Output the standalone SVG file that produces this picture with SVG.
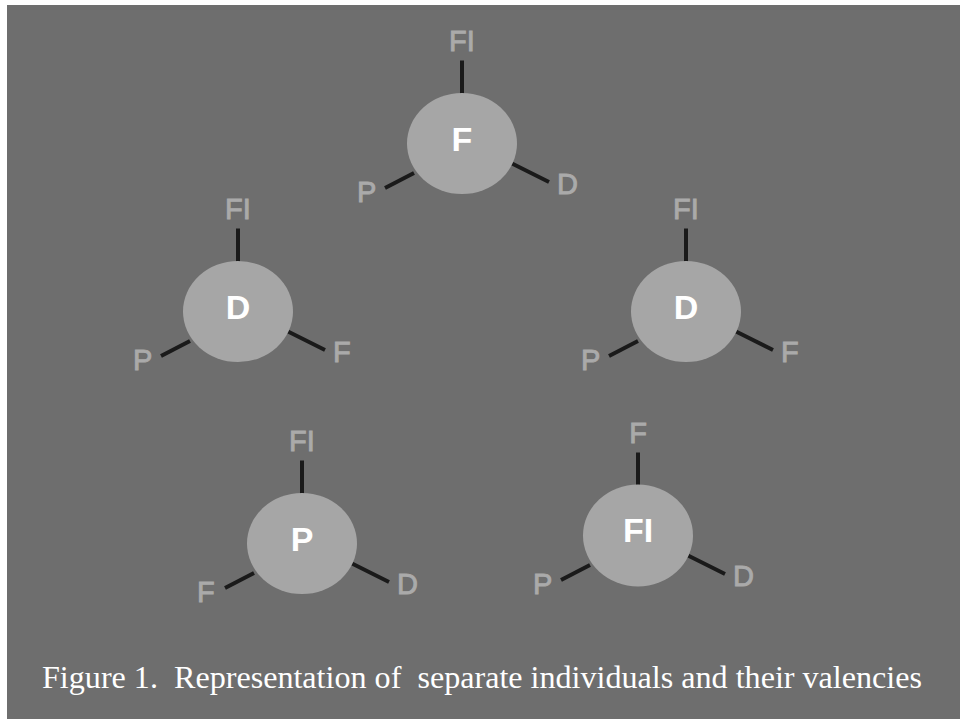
<svg xmlns="http://www.w3.org/2000/svg" width="960" height="719" viewBox="0 0 960 719">
<style>
.body{fill:#a6a6a6}
.val{font-family:"Liberation Sans",Arial,sans-serif;font-size:29px;fill:#aaaaaa;stroke:#aaaaaa;stroke-width:0.9px}
.name{font-family:"Liberation Sans",Arial,sans-serif;font-size:34px;font-weight:bold;fill:#ffffff;text-anchor:middle}
.top{text-anchor:middle}
.bond{stroke:#1a1a1a;stroke-width:4;stroke-linecap:butt}
.caption{font-family:"Liberation Serif","Times New Roman",serif;font-size:31px;fill:#ffffff;white-space:pre}
</style>
<rect x="0" y="0" width="960" height="719" fill="#ffffff"/>
<rect x="7" y="5" width="953" height="714" fill="#6e6e6e"/>
<g id="connectors">
<line class="bond" x1="462" y1="60.5" x2="462" y2="94"/>
<line class="bond" x1="385" y1="188" x2="414" y2="173"/>
<line class="bond" x1="512" y1="163.5" x2="549" y2="182"/>
<line class="bond" x1="238" y1="228.5" x2="238" y2="262"/>
<line class="bond" x1="161" y1="356" x2="190" y2="341"/>
<line class="bond" x1="288" y1="331.5" x2="325" y2="350"/>
<line class="bond" x1="686" y1="228.5" x2="686" y2="262"/>
<line class="bond" x1="609" y1="356" x2="638" y2="341"/>
<line class="bond" x1="736" y1="331.5" x2="773" y2="350"/>
<line class="bond" x1="302" y1="460.5" x2="302" y2="494"/>
<line class="bond" x1="225" y1="588" x2="254" y2="573"/>
<line class="bond" x1="352" y1="563.5" x2="389" y2="582"/>
<line class="bond" x1="638" y1="452.5" x2="638" y2="486"/>
<line class="bond" x1="561" y1="580" x2="590" y2="565"/>
<line class="bond" x1="688" y1="555.5" x2="725" y2="574"/>
</g>
<g id="node-F-top">
<ellipse class="body" cx="462" cy="143.5" rx="55" ry="50.5"/>
<text class="name" x="462" y="151">F</text>
<text class="val top" x="462" y="50.5">FI</text>
<text class="val" x="357" y="201.5">P</text>
<text class="val" x="557" y="194">D</text>
</g>
<g id="node-D-left">
<ellipse class="body" cx="238" cy="311.5" rx="55" ry="50.5"/>
<text class="name" x="238" y="319">D</text>
<text class="val top" x="238" y="218.5">FI</text>
<text class="val" x="133" y="369.5">P</text>
<text class="val" x="333" y="362">F</text>
</g>
<g id="node-D-right">
<ellipse class="body" cx="686" cy="311.5" rx="55" ry="50.5"/>
<text class="name" x="686" y="319">D</text>
<text class="val top" x="686" y="218.5">FI</text>
<text class="val" x="581" y="369.5">P</text>
<text class="val" x="781" y="362">F</text>
</g>
<g id="node-P">
<ellipse class="body" cx="302" cy="543.5" rx="55" ry="50.5"/>
<text class="name" x="302" y="551">P</text>
<text class="val top" x="302" y="450.5">FI</text>
<text class="val" x="197" y="601.5">F</text>
<text class="val" x="397" y="594">D</text>
</g>
<g id="node-FI">
<ellipse class="body" cx="638" cy="535.5" rx="55" ry="51"/>
<text class="name" x="638" y="542">FI</text>
<text class="val top" x="638" y="442.5">F</text>
<text class="val" x="533" y="593.5">P</text>
<text class="val" x="733" y="586">D</text>
</g>
<text class="caption" x="42" y="688" textLength="880" lengthAdjust="spacingAndGlyphs">Figure 1.  Representation of  separate individuals and their valencies</text>
</svg>
